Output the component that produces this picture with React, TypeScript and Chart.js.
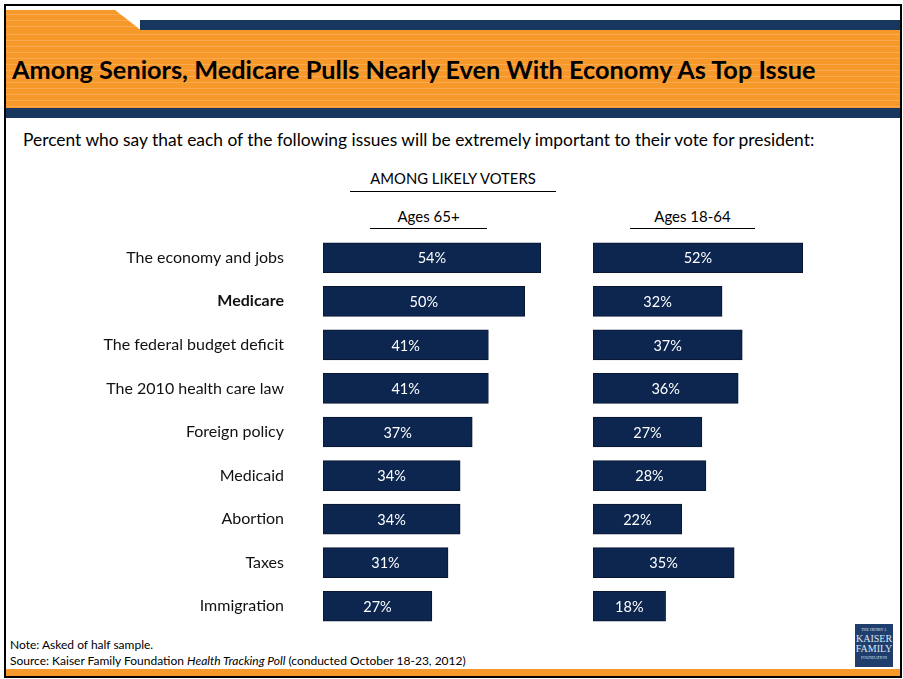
import React, { useEffect, useRef } from "react";
import { Chart, registerables } from "chart.js";

Chart.register(...registerables);

const categories = [
  "The economy and jobs",
  "Medicare",
  "The federal budget deficit",
  "The 2010 health care law",
  "Foreign policy",
  "Medicaid",
  "Abortion",
  "Taxes",
  "Immigration",
];
const seniors = [54, 50, 41, 41, 37, 34, 34, 31, 27];
const younger = [52, 32, 37, 36, 27, 28, 22, 35, 18];
const boldIndex = 1;

const NAVY = "#0c2650";
const ORANGE = "#f7982a";
const BAND = "#17375e";
const FONT = "Lato, 'Open Sans', sans-serif";

const valueLabels = {
  id: "valueLabels",
  afterDatasetsDraw(chart: any) {
    const ctx = chart.ctx;
    ctx.save();
    ctx.fillStyle = "#ffffff";
    ctx.font = `14.5px ${FONT}`;
    ctx.textAlign = "center";
    ctx.textBaseline = "middle";
    chart.data.datasets.forEach((ds: any, di: number) => {
      const meta = chart.getDatasetMeta(di);
      meta.data.forEach((bar: any, i: number) => {
        const cx = (bar.x + bar.base) / 2;
        ctx.fillText(`${ds.data[i]}%`, cx, bar.y + 1);
      });
    });
    ctx.restore();
  },
};

function makeConfig(data: number[], showLabels: boolean): any {
  return {
    type: "bar",
    data: {
      labels: categories,
      datasets: [
        {
          data,
          backgroundColor: NAVY,
          borderColor: "#08172f",
          borderWidth: 1,
          borderSkipped: false,
          barThickness: 30,
        },
      ],
    },
    options: {
      indexAxis: "y",
      animation: false,
      responsive: false,
      maintainAspectRatio: false,
      layout: { padding: 0 },
      plugins: { legend: { display: false }, tooltip: { enabled: false } },
      scales: {
        x: { display: false, min: 0, max: 60 },
        y: {
          display: showLabels,
          grid: { display: false, drawTicks: false },
          border: { display: false },
          ticks: {
            autoSkip: false,
            padding: 39,
            color: "#111",
            font: (c: any) => ({
              family: FONT,
              size: 16,
              weight: c.index === boldIndex ? "bold" : "normal",
            }),
          },
          afterFit: (scale: any) => {
            if (showLabels) scale.width = 323;
            scale.paddingTop = 0;
            scale.paddingBottom = 0;
          },
        },
      },
    },
    plugins: [valueLabels],
  };
}

function BarPanel(props: { data: number[]; showLabels: boolean; style: React.CSSProperties; width: number; height: number }) {
  const ref = useRef<HTMLCanvasElement>(null);
  useEffect(() => {
    const chart = new Chart(ref.current as HTMLCanvasElement, makeConfig(props.data, props.showLabels));
    return () => chart.destroy();
  }, []);
  return (
    <canvas
      ref={ref}
      width={props.width}
      height={props.height}
      style={{ position: "absolute", width: props.width, height: props.height, ...props.style }}
    />
  );
}

const abs = (s: React.CSSProperties): React.CSSProperties => ({ position: "absolute", ...s });

export default function App() {
  useEffect(() => {
    document.body.style.margin = "0";
  }, []);
  const stripes = `repeating-linear-gradient(to bottom, ${ORANGE} 0px, ${ORANGE} 4px, #f9aa50 4px, #f9aa50 5px, ${ORANGE} 5px, ${ORANGE} 6px)`;
  return (
    <div style={abs({ left: 0, top: 0, width: 903, height: 679, background: "#fff", overflow: "hidden", fontFamily: FONT })}>
      {/* header */}
      <div style={abs({ left: 6, top: 10, width: 140, height: 21, background: stripes, clipPath: "polygon(0 0, 109px 0, 136px 100%, 0 100%)" })} />
      <div style={abs({ left: 140, top: 20, width: 762, height: 11, background: BAND })} />
      <div style={abs({ left: 6, top: 30, width: 894, height: 78, background: stripes })} />
      <div style={abs({ left: 6, top: 108, width: 894, height: 10, background: BAND })} />
      <div style={abs({ left: 12, top: 54, fontSize: 25.3, lineHeight: "30px", fontWeight: "bold", color: "#000", whiteSpace: "nowrap" })}>
        Among Seniors, Medicare Pulls Nearly Even With Economy As Top Issue
      </div>
      <div style={abs({ left: 23, top: 129, fontSize: 17.4, lineHeight: "22px", color: "#000", whiteSpace: "nowrap" })}>
        Percent who say that each of the following issues will be extremely important to their vote for president:
      </div>

      {/* column headers */}
      <div style={abs({ left: 340, width: 226, top: 168, fontSize: 14.8, lineHeight: "20px", textAlign: "center", color: "#000" })}>AMONG LIKELY VOTERS</div>
      <div style={abs({ left: 350, width: 206, top: 191, height: 0, borderTop: "1.5px solid #000" })} />
      <div style={abs({ left: 360, width: 137, top: 206, fontSize: 15, lineHeight: "20px", textAlign: "center", color: "#000" })}>Ages 65+</div>
      <div style={abs({ left: 370, width: 117, top: 228, height: 0, borderTop: "1.5px solid #000" })} />
      <div style={abs({ left: 620, width: 145, top: 206, fontSize: 15, lineHeight: "20px", textAlign: "center", color: "#000" })}>Ages 18-64</div>
      <div style={abs({ left: 630, width: 125, top: 228, height: 0, borderTop: "1.5px solid #000" })} />

      {/* charts */}
      <BarPanel data={seniors} showLabels={true} width={565} height={392} style={{ left: 0, top: 236 }} />
      <BarPanel data={younger} showLabels={false} width={242} height={392} style={{ left: 593, top: 236 }} />

      {/* footer */}
      <div style={abs({ left: 10, top: 637, fontSize: 12, lineHeight: "15px", color: "#000", whiteSpace: "nowrap" })}>Note: Asked of half sample.</div>
      <div style={abs({ left: 10, top: 653, fontSize: 12, lineHeight: "15px", color: "#000", whiteSpace: "nowrap" })}>
        Source: Kaiser Family Foundation <i>Health Tracking Poll</i> (conducted October 18-23, 2012)
      </div>
      <div style={abs({ left: 855, top: 624, width: 38, height: 43, background: "#1f3d6d", color: "#dfe6f0", fontFamily: "'Liberation Serif', serif", textAlign: "center", lineHeight: 1 })}>
        <div style={{ fontSize: 4, marginTop: 4 }}>THE HENRY J.</div>
        <div style={{ fontSize: 10, marginTop: 2 }}>KAISER</div>
        <div style={{ fontSize: 10 }}>FAMILY</div>
        <div style={{ fontSize: 4, marginTop: 2 }}>FOUNDATION</div>
      </div>
      <div style={abs({ left: 6, top: 669, width: 894, height: 8, background: ORANGE })} />

      {/* frame */}
      <div style={abs({ left: 4, top: 4, width: 894, height: 670, border: "2px solid #000", boxSizing: "content-box", pointerEvents: "none" })} />
    </div>
  );
}
